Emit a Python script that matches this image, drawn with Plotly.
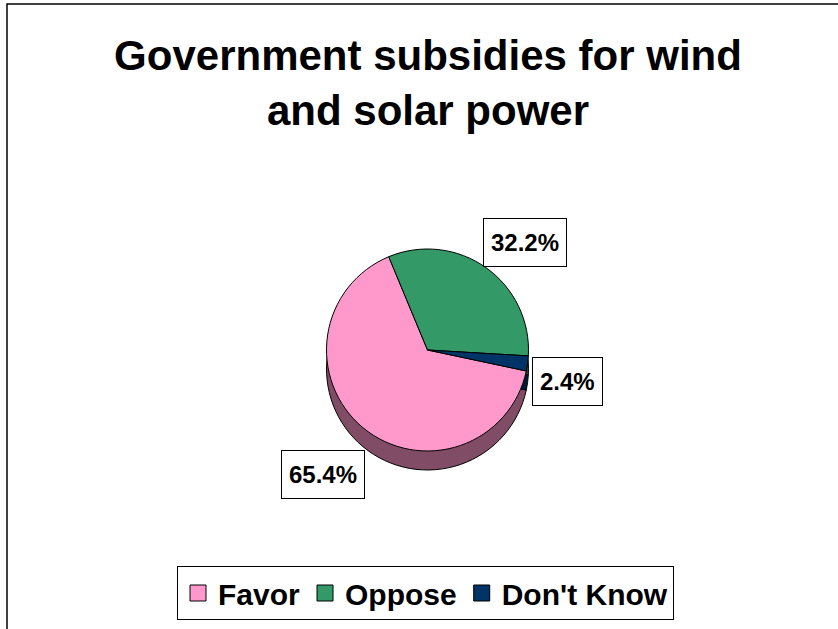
import plotly.graph_objects as go

# ---- data ----
categories = ["Favor", "Oppose", "Don't Know"]
values = [65.4, 32.2, 2.4]
top_colors = ["#FF99CC", "#339966", "#003366"]
side_colors = ["#804C66", "#1A4D33", "#001A33"]
title_text = "Government subsidies for wind<br>and solar power"

W, H = 838, 629
FONT = "Liberation Sans, Arial, sans-serif"

# pie geometry (pixels)
cx, cy, r, depth = 427.5, 350, 101, 19


def dom(cx_, cy_):
    return dict(x=[(cx_ - r) / W, (cx_ + r) / W],
                y=[(H - cy_ - r) / H, (H - cy_ + r) / H])


fig = go.Figure()

common = dict(labels=categories, values=values, sort=False,
              direction="clockwise", rotation=102, textinfo="none",
              showlegend=False)

# side (depth) of the 3-D pie
fig.add_trace(go.Pie(marker=dict(colors=side_colors, line=dict(color="black", width=1)),
                     domain=dom(cx, cy + depth), hoverinfo="skip", **common))
# top face
fig.add_trace(go.Pie(marker=dict(colors=top_colors, line=dict(color="black", width=1)),
                     domain=dom(cx, cy), hoverinfo="label+percent", **common))

# legend entries (square swatches)
for name, col in zip(categories, top_colors):
    fig.add_trace(go.Scatter(x=[None], y=[None], mode="markers", name=f"<b>{name}</b>",
                             marker=dict(symbol="square", size=16, color=col,
                                         line=dict(color="black", width=1))))

# data labels in boxes
label_px = [(323, 474.5), (525, 242.5), (567, 381.5)]
annotations = []
for v, (lx, ly) in zip(values, label_px):
    annotations.append(dict(text=f"<b>{v:.1f}%</b>", x=lx / W, y=1 - ly / H,
                            xref="paper", yref="paper", showarrow=False,
                            xanchor="center", yanchor="middle",
                            font=dict(family=FONT, size=24, color="black"),
                            bgcolor="white", bordercolor="black", borderwidth=1,
                            borderpad=7, height=33))

fig.update_layout(
    width=W, height=H,
    margin=dict(l=0, r=0, t=0, b=0),
    paper_bgcolor="white", plot_bgcolor="white",
    title=dict(text=f"<b>{title_text}</b>", x=428 / W, xanchor="center",
               y=1 - 70 / H, yanchor="middle", yref="container",
               font=dict(family=FONT, size=42, color="black")),
    xaxis=dict(visible=False), yaxis=dict(visible=False),
    showlegend=True,
    legend=dict(orientation="h", x=425.5 / W, xanchor="center",
                y=1 - 593 / H, yanchor="middle",
                bordercolor="black", borderwidth=1, bgcolor="white",
                font=dict(family=FONT, size=30, color="black"),
                itemclick=False, itemdoubleclick=False),
    annotations=annotations,
    shapes=[dict(type="rect", xref="paper", yref="paper",
                 x0=7 / W, x1=1.02, y0=-0.02, y1=1 - 4 / H,
                 line=dict(color="black", width=1.5), fillcolor="rgba(0,0,0,0)",
                 layer="below")],
)

fig.write_html("out.html", config={"displayModeBar": False},
               post_script="document.body.style.margin='0';document.body.style.overflow='hidden';")
